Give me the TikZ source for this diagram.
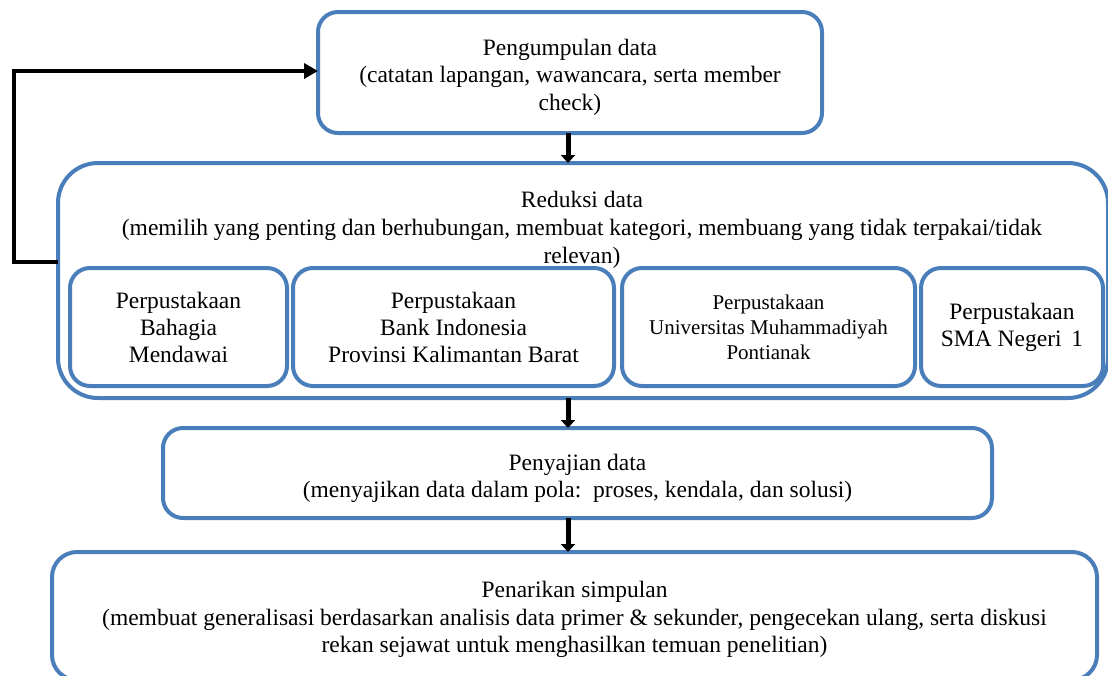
\documentclass[tikz,border=0pt]{standalone}
\usepackage{fontspec}
\setmainfont{Liberation Serif}
\usetikzlibrary{arrows.meta}
\definecolor{boxblue}{HTML}{4A7EBB}
\begin{document}
\begin{tikzpicture}[x=1pt,y=-1pt,
  box/.style={draw=boxblue, line width=4pt, rounded corners=20pt, fill=white, align=center,
    font=\fontsize{23.5}{27}\selectfont, inner sep=0pt, outer sep=0pt},
  txt/.style={align=center, font=\fontsize{23.5}{27.5}\selectfont, inner sep=0pt},
  conn/.style={draw=black, line width=5pt, -{Triangle[length=8pt,width=14pt]}},
  fbline/.style={draw=black, line width=4pt, -{Triangle[length=14pt,width=15pt]}}]
\useasboundingbox (0,0) rectangle (1108,675);
% boxes
\node[box, minimum width=504pt, minimum height=121pt] (pen) at (570,72.5) {};
\node[txt] (pent) at (570,77)
  {Pengumpulan data\\(catatan lapangan, wawancara, serta member\\check)};
\node[box, rounded corners=40pt, minimum width=1050pt, minimum height=235pt] (red) at (583,280.5) {};
\node[txt, font=\fontsize{23.5}{28}\selectfont] (redt) at (582,230)
  {Reduksi data\\(memilih yang penting dan berhubungan, membuat kategori, membuang yang tidak terpakai/tidak\\relevan)};
\node[box, minimum width=217pt, minimum height=118pt] (s1) at (178.5,327)
  {Perpustakaan\\Bahagia\\Mendawai};
\node[box, minimum width=321pt, minimum height=118pt] (s2) at (453.5,327)
  {Perpustakaan\\Bank Indonesia\\Provinsi Kalimantan Barat};
\node[box, minimum width=293pt, minimum height=118pt, font=\fontsize{21}{25}\selectfont] (s3) at (768.5,327)
  {Perpustakaan\\Universitas Muhammadiyah\\Pontianak};
\node[box, minimum width=182pt, minimum height=118pt] (s4) at (1012,327)
  {Perpustakaan\\SMA Negeri\, 1};
\node[box, minimum width=829pt, minimum height=90pt] (pyj) at (577.5,473) {};
\node[txt] (pyjt) at (577.5,478.5)
  {Penyajian data\\(menyajikan data dalam pola:\, proses, kendala, dan solusi)};
\node[box, rounded corners=25pt, minimum width=1045pt, minimum height=128pt] (pnr) at (574.5,616) {};
\node[txt] (pnrt) at (574.5,619.5)
  {Penarikan simpulan\\(membuat generalisasi berdasarkan analisis data primer \& sekunder, pengecekan ulang, serta diskusi\\rekan sejawat untuk menghasilkan temuan penelitian)};
% connectors
\coordinate (fb) at (14,262);
\draw[conn] (pen.south -| 568,0) -- (red.north -| 568,0);
\draw[conn] (red.south -| 568,0) -- (pyj.north -| 568,0);
\draw[conn] (pyj.south -| 568,0) -- (pnr.north -| 568,0);
\draw[fbline] (red.west |- fb) -- (fb) |- (pen.west |- 0,71);
\end{tikzpicture}
\end{document}
